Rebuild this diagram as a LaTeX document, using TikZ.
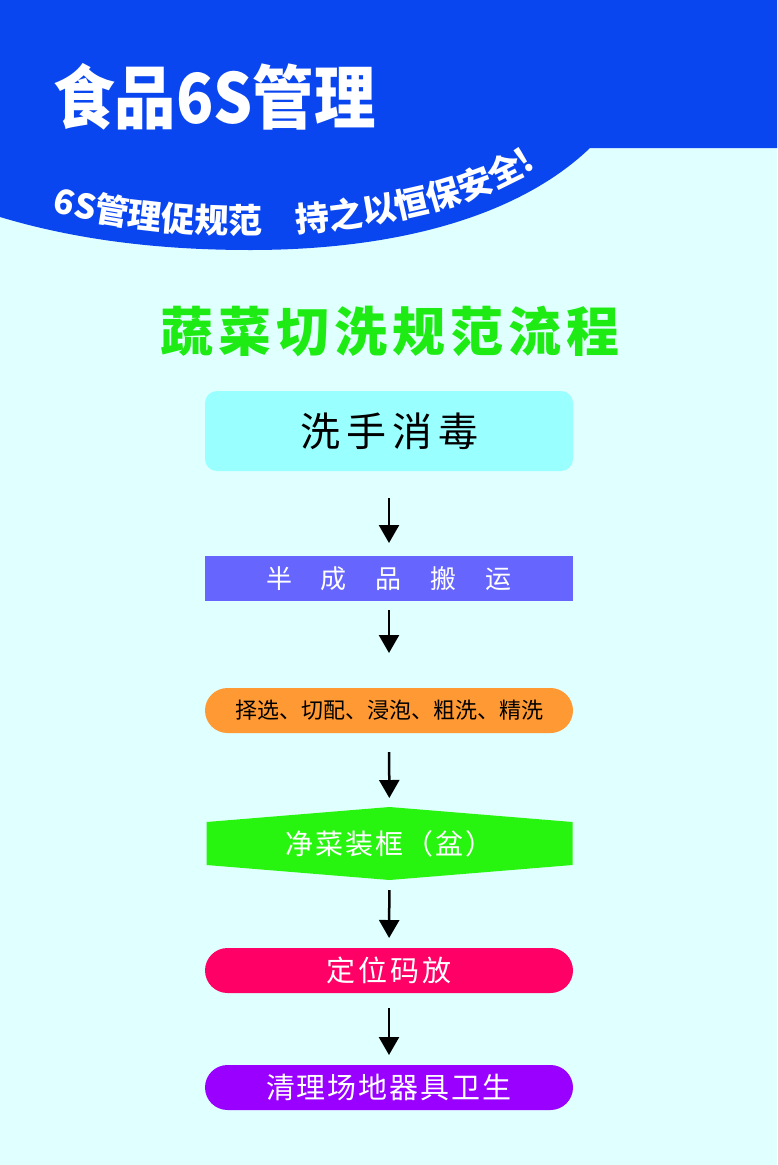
\documentclass[tikz,border=0pt]{standalone}
\usepackage{fontspec}
\newfontfamily\cjk{Noto Sans CJK SC}
\usetikzlibrary{arrows.meta,decorations.text}
\definecolor{bgc}{RGB}{224,255,255}
\definecolor{hdblue}{RGB}{10,70,240}
\definecolor{headgreen}{RGB}{30,235,20}
\definecolor{cOne}{RGB}{153,255,255}
\definecolor{cTwo}{RGB}{102,102,255}
\definecolor{cThree}{RGB}{255,153,51}
\definecolor{cFour}{RGB}{40,245,15}
\definecolor{cFive}{RGB}{255,0,102}
\definecolor{cSix}{RGB}{153,0,255}
\begin{document}
\begin{tikzpicture}[x=1pt,y=-1pt,
  box/.style={minimum width=368pt, inner sep=0pt, outer sep=0pt},
  pill/.style={box, minimum height=45pt, rounded corners=22.5pt},
  flow/.style={line width=2.5pt, -{Triangle[width=20pt,length=18pt]}},
  ]
\useasboundingbox (0,0) rectangle (777,1165);
\fill[bgc] (0,0) rectangle (777,1165);
% header band
\fill[hdblue] (0,0) -- (777,0) -- (777,148) -- (590,148)
  .. controls (520,215) and (400,250) .. (250,250)
  .. controls (140,250) and (60,235) .. (0,217) -- cycle;
\node[anchor=west, text=white, inner sep=0pt,
  font=\cjk\bfseries\fontsize{69}{69}\selectfont] (title) at (53,97) {\scalebox{0.89}[1]{食品6S管理}};
\path[decorate, decoration={text along path, text color=white,
  text={|\cjk\bfseries\fontsize{34}{34}\selectfont|6S管理促规范　持之以恒保安全!},
  text align=left}]
  (52,211) .. controls (200,252) and (420,237) .. (528,173) -- (556,154);
% heading
\node[text=headgreen, font=\cjk\bfseries\fontsize{53}{53}\selectfont] (heading) at (390,331)
  {蔬\hspace{5pt}菜\hspace{5pt}切\hspace{5pt}洗\hspace{5pt}规\hspace{5pt}范\hspace{5pt}流\hspace{5pt}程};
% steps
\node[box, fill=cOne, rounded corners=12pt, minimum height=80pt,
  font=\cjk\fontsize{40}{40}\selectfont] (n1) at (389,431)
  {洗\hspace{6pt}手\hspace{6pt}消\hspace{6pt}毒};
\node[box, fill=cTwo, minimum height=45pt, text=white,
  font=\cjk\fontsize{26}{26}\selectfont] (n2) at (389,578.5)
  {半\hspace{29pt}成\hspace{29pt}品\hspace{29pt}搬\hspace{29pt}运};
\node[pill, fill=cThree, font=\cjk\fontsize{22}{22}\selectfont] (n3) at (389,710.5)
  {择选、切配、浸泡、粗洗、精洗};
\node[box, minimum width=366pt, minimum height=73pt] (n4) at (389.5,843.5) {};
\fill[cFour] ([yshift=-15pt]n4.north west) -- (n4.north) -- ([yshift=-15pt]n4.north east)
  -- ([yshift=15pt]n4.south east) -- (n4.south) -- ([yshift=15pt]n4.south west) -- cycle;
\node[text=white, font=\cjk\fontsize{28}{28}\selectfont] (n4text) at (n4)
  {净\hspace{2pt}菜\hspace{2pt}装\hspace{2pt}框\hspace{2pt}（\hspace{2pt}盆\hspace{2pt}）};
\node[pill, fill=cFive, text=white, font=\cjk\fontsize{29}{29}\selectfont] (n5) at (389,970.5)
  {定\hspace{3pt}位\hspace{3pt}码\hspace{3pt}放};
\node[pill, fill=cSix, text=white, font=\cjk\fontsize{29}{29}\selectfont] (n6) at (389,1087.5)
  {清\hspace{2pt}理\hspace{2pt}场\hspace{2pt}地\hspace{2pt}器\hspace{2pt}具\hspace{2pt}卫\hspace{2pt}生};
% arrows
\draw[flow, shorten <=27pt, shorten >=13pt] (n1) -- (n2);
\draw[flow, shorten <=9pt, shorten >=35pt] (n2) -- (n3);
\draw[flow, shorten <=19pt, shorten >=9pt] (n3) -- (n4);
\draw[flow, shorten <=10pt, shorten >=10pt] (n4) -- (n5);
\draw[flow, shorten <=15pt, shorten >=10pt] (n5) -- (n6);
\end{tikzpicture}
\end{document}
